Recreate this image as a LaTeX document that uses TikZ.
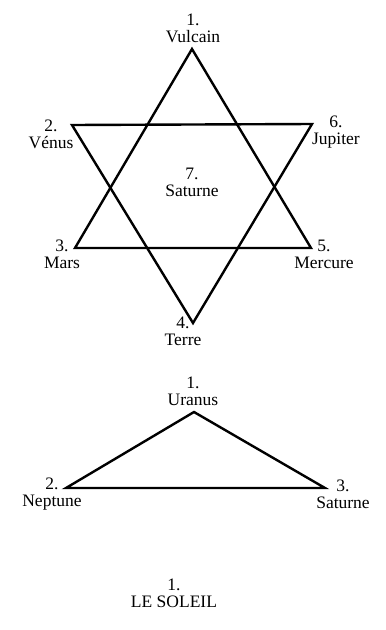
\documentclass[tikz,border=0pt]{standalone}
\usepackage{fontspec}
\setmainfont{Liberation Serif}
\usepackage{tikz}
\usetikzlibrary{positioning,calc}

\begin{document}
\begin{tikzpicture}[x=1pt, y=-1pt,
  edge/.style={line width=2.4pt, line join=miter},
  planet/.style={align=center, inner sep=0pt, font=\fontsize{17.5}{17}\selectfont}
]
  \useasboundingbox (0,0) rectangle (386,630);

  % Star of the seven planets
  \coordinate (vulcain) at (192, 49);
  \coordinate (venus) at (72, 125);
  \coordinate (jupiter) at (312, 124);
  \coordinate (mars) at (75, 248);
  \coordinate (mercure) at (311, 248);
  \coordinate (terre) at (193, 323);
  \draw[edge] (vulcain) -- (mars) -- (mercure) -- cycle;
  \draw[edge] (venus) -- (jupiter) -- (terre) -- cycle;

  \node[planet] (lvulcain) at (193, 28) {1.\\Vulcain};
  \node[planet] (lvenus) at (51, 134) {2.\\Vénus};
  \node[planet] (ljupiter) at (336, 132) {6.\\Jupiter};
  \node[planet] (lsaturne) at (192, 182) {7.\\Saturne};
  \node[planet] (lmars) at (62, 254) {3.\\Mars};
  \node[planet] (lmercure) at (324, 254) {5.\\Mercure};
  \node[planet] (lterre) at (183, 331) {4.\\Terre};

  % Triangle of the outer planets
  \coordinate (uranus) at (194, 412);
  \coordinate (neptune) at (66, 488);
  \coordinate (saturne) at (325, 488);
  \draw[edge] (uranus) -- (neptune) -- (saturne) -- cycle;

  \node[planet] (luranus) at (193, 391) {1.\\Uranus};
  \node[planet] (lneptune) at (52, 494) {2.\\Neptune};
  \node[planet] (lsaturne2) at (343, 494) {3.\\Saturne};

  % The sun
  \node[planet] (soleil) at (174, 593) {1.\\LE SOLEIL};
\end{tikzpicture}
\end{document}
